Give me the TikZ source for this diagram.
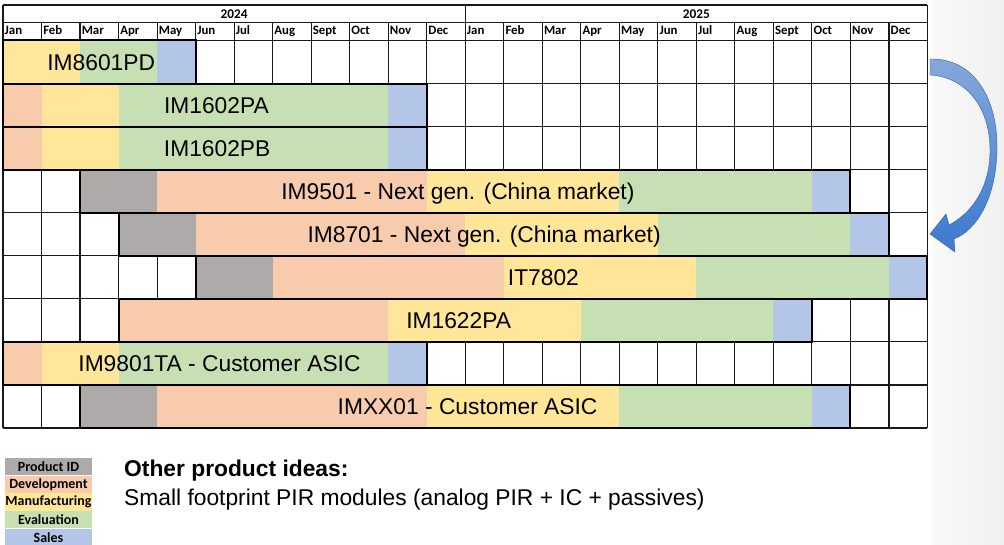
\documentclass[tikz,border=0pt]{standalone}
\usepackage{fontspec}
\setmainfont{Liberation Sans}
\newfontfamily\calfont{Carlito}
\usetikzlibrary{positioning}
\definecolor{pidgray}{HTML}{AEAAAA}
\definecolor{devorange}{HTML}{F8CBAD}
\definecolor{manyellow}{HTML}{FFE699}
\definecolor{evalgreen}{HTML}{C6E0B4}
\definecolor{salesblue}{HTML}{B4C6E7}
\definecolor{arrowtop}{HTML}{86A8DA}
\definecolor{arrowbot}{HTML}{3C79CF}
\tikzset{
  gridline/.style={draw=black!90, line width=1.1pt},
  barline/.style={draw=black, line width=2pt},
  month/.style={anchor=base west, inner sep=0pt, font=\calfont\bfseries\fontsize{12.8}{14}\selectfont},
  year/.style={inner sep=0pt, font=\calfont\bfseries\fontsize{13.3}{15}\selectfont},
  prodname/.style={anchor=base, inner sep=0pt, font=\fontsize{22.8}{26}\selectfont},
  legendbox/.style={minimum width=87.5pt, minimum height=17.2pt, inner sep=0pt, font=\calfont\bfseries\fontsize{14}{15}\selectfont},
}
\newcommand{\phase}[4]{\fill[#4] (#2,#1) rectangle (#3,#1+1);}
\newcommand{\barbox}[3]{\draw[barline] (#2,#1) rectangle (#3,#1+1);}

\begin{document}
\begin{tikzpicture}[x=1pt,y=-1pt]
\useasboundingbox (0,0) rectangle (1004,545);
\fill[left color=black!2, right color=black!6] (931,0) rectangle (1004,545);

\begin{scope}[shift={(3,40.5)}, x=38.52pt, y=-43.06pt]
\fill[white] (0,-0.824) rectangle (24,9);
\foreach \c in {0,...,24} \draw[gridline] (\c,-0.418) -- (\c,9);
\foreach \r in {0,...,9} \draw[gridline] (0,\r) -- (24,\r);
\draw[gridline] (0,-0.824) -- (24,-0.824) (0,-0.418) -- (24,-0.418);
\draw[gridline] (0,-0.824) -- (0,-0.418) (12,-0.824) -- (12,-0.418) (24,-0.824) -- (24,-0.418);

\node[year] (y2024) at (6,-0.621) {2024};
\node[year] (y2025) at (18,-0.621) {2025};
\foreach \m [count=\i from 0] in {Jan,Feb,Mar,Apr,May,Jun,Jul,Aug,Sept,Oct,Nov,Dec} {
  \node[month] (a\i) at (\i+0.04,-0.128) {\m};
  \node[month] (b\i) at (\i+12.04,-0.128) {\m};
}

\phase{0}{0}{2}{manyellow} \phase{0}{2}{4}{evalgreen} \phase{0}{4}{5}{salesblue}
\barbox{0}{0}{5}
\node[prodname] (im8601pd) at (2.55,0.69) {IM8601PD};

\phase{1}{0}{1}{devorange} \phase{1}{1}{3}{manyellow} \phase{1}{3}{10}{evalgreen} \phase{1}{10}{11}{salesblue}
\barbox{1}{0}{11}
\node[prodname] (im1602pa) at (5.54,1.69) {IM1602PA};

\phase{2}{0}{1}{devorange} \phase{2}{1}{3}{manyellow} \phase{2}{3}{10}{evalgreen} \phase{2}{10}{11}{salesblue}
\barbox{2}{0}{11}
\node[prodname] (im1602pb) at (5.56,2.69) {IM1602PB};

\phase{3}{2}{4}{pidgray} \phase{3}{4}{11}{devorange} \phase{3}{11}{16}{manyellow} \phase{3}{16}{21}{evalgreen} \phase{3}{21}{22}{salesblue}
\barbox{3}{2}{22}
\node[prodname] (im9501) at (11.81,3.69) {IM9501 - Next gen. (China market)};

\phase{4}{3}{5}{pidgray} \phase{4}{5}{12}{devorange} \phase{4}{12}{17}{manyellow} \phase{4}{17}{22}{evalgreen} \phase{4}{22}{23}{salesblue}
\barbox{4}{3}{23}
\node[prodname] (im8701) at (12.49,4.69) {IM8701 - Next gen. (China market)};

\phase{5}{5}{7}{pidgray} \phase{5}{7}{13}{devorange} \phase{5}{13}{18}{manyellow} \phase{5}{18}{23}{evalgreen} \phase{5}{23}{24}{salesblue}
\barbox{5}{5}{24}
\node[prodname] (it7802) at (14.03,5.69) {IT7802};

\phase{6}{3}{10}{devorange} \phase{6}{10}{15}{manyellow} \phase{6}{15}{20}{evalgreen} \phase{6}{20}{21}{salesblue}
\barbox{6}{3}{21}
\node[prodname] (im1622pa) at (11.83,6.69) {IM1622PA};

\phase{7}{0}{1}{devorange} \phase{7}{1}{3}{manyellow} \phase{7}{3}{10}{evalgreen} \phase{7}{10}{11}{salesblue}
\barbox{7}{0}{11}
\node[prodname] (im9801ta) at (5.62,7.69) {IM9801TA - Customer ASIC};

\phase{8}{2}{4}{pidgray} \phase{8}{4}{11}{devorange} \phase{8}{11}{16}{manyellow} \phase{8}{16}{21}{evalgreen} \phase{8}{21}{22}{salesblue}
\barbox{8}{2}{22}
\node[prodname] (imxx01) at (12.06,8.69) {IMXX01 - Customer ASIC};
\end{scope}

\draw[top color=arrowtop, bottom color=arrowbot, draw=arrowbot!80!black, line width=0.4pt]
  (930,59) .. controls (975,58) and (998,100) .. (997,150)
  .. controls (996,198) and (977,230) .. (954,239)
  -- (955,252) -- (930,234) -- (946,214) -- (949,225)
  .. controls (970,214) and (990,190) .. (990,150)
  .. controls (990,106) and (965,77) .. (930,75) -- cycle;

\node[legendbox, fill=pidgray] (lgpid) at (48.5,466.8) {Product ID};
\node[legendbox, fill=devorange, below=0pt of lgpid] (lgdev) {Development};
\node[legendbox, fill=manyellow, below=0pt of lgdev] (lgman) {Manufacturing};
\node[legendbox, fill=evalgreen, below=0pt of lgman] (lgeval) {Evaluation};
\node[legendbox, fill=salesblue, below=0pt of lgeval] (lgsales) {Sales};

\node[anchor=base west, inner sep=0pt, font=\bfseries\fontsize{22.8}{26}\selectfont] (ideas) at (124,476.7) {Other product ideas:};
\node[anchor=base west, inner sep=0pt, font=\fontsize{22.8}{26}\selectfont] (pir) at (124,505) {Small footprint PIR modules (analog PIR + IC + passives)};
\end{tikzpicture}
\end{document}
